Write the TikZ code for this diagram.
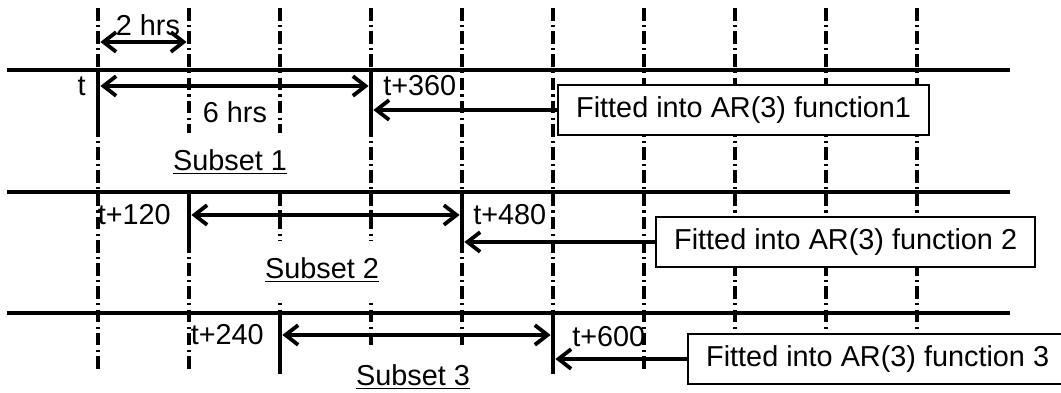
\documentclass[tikz,border=0pt]{standalone}
\usepackage{fontspec}
\setmainfont{Liberation Sans}
\usetikzlibrary{arrows.meta,positioning}
\tikzset{>={Straight Barb[length=9pt,width=14pt]},
  every node/.style={font=\fontsize{20.5}{24}\selectfont},
  grid/.style={draw=black,line width=2.5pt,dash pattern=on 9pt off 3pt on 1.5pt off 3pt},
  row/.style={draw=black,line width=2.3pt},
  bar/.style={draw=black,line width=3.4pt},
  span/.style={<->,line width=2.7pt,shorten <=1.7pt,shorten >=1.7pt},
  fitarrow/.style={->,line width=2.7pt,shorten >=1.7pt},
  fitbox/.style={draw,line width=1.3pt,fill=white,inner xsep=13pt,minimum height=1.25cm,anchor=west},
  subset/.style={fill=white,inner xsep=1pt,minimum height=1.45cm},
  stamp/.style={inner sep=0pt}}
\begin{document}
\begin{tikzpicture}[x=0.025cm,y=-0.025cm]
\path[use as bounding box] (0,0) rectangle (1061,393);
% dash-dot time grid, one line every 2 hrs
\foreach \k in {0,...,9}
  \draw[grid] ({98+91*\k},8) -- ({98+91*\k},370);
\node[subset] (sub1) at (230,162) {\underline{Subset 1}};
\node[subset] (sub2) at (322,270) {\underline{Subset 2}};
\node[subset] (sub3) at (413,377) {\underline{Subset 3}};
\draw[row] (7,70) -- (1010,70);
\draw[row] (7,192) -- (1010,192);
\draw[row] (7,313) -- (1010,313);
% window bars
\draw[bar] (98,70) -- (98,128);\draw[bar] (371,70) -- (371,128);
\draw[bar] (189,192) -- (189,251);\draw[bar] (462,192) -- (462,251);
\draw[bar] (280,313) -- (280,374);\draw[bar] (553,313) -- (553,374);
\coordinate (h0) at (98,42);\coordinate (h1) at (189,42);
\coordinate (s1) at (98,86);\coordinate (e1) at (371,86);
\coordinate (s2) at (189,215);\coordinate (e2) at (462,215);
\coordinate (s3) at (280,335);\coordinate (e3) at (553,335);
\draw[span] (h0) -- (h1);
\node (two) at (148,25) {2 hrs};
\draw[span] (s1) -- (e1);
\draw[span] (s2) -- (e2);
\draw[span] (s3) -- (e3);
\node (six) at (235,112) {6 hrs};
\node[stamp,anchor=east] (t0) at (86,86) {t};
\node[stamp,anchor=west] (t360) at (383,86) {t+360};
\node[stamp,anchor=east] (t120) at (171,215) {t+120};
\node[stamp,anchor=west] (t480) at (473,215) {t+480};
\node[stamp,anchor=east] (t240) at (264,335) {t+240};
\node[stamp,anchor=west] (t600) at (572,337) {t+600};
\node[fitbox] (fit1) at (557,110) {Fitted into AR(3) function1};
\node[fitbox] (fit2) at (655,242) {Fitted into AR(3) function 2};
\node[fitbox] (fit3) at (687,359) {Fitted into AR(3) function 3};
\draw[fitarrow] (fit1.west) -- (fit1.west -| e1);
\draw[fitarrow] (fit2.west) -- (fit2.west -| e2);
\draw[fitarrow] (fit3.west) -- (fit3.west -| e3);
\end{tikzpicture}
\end{document}
